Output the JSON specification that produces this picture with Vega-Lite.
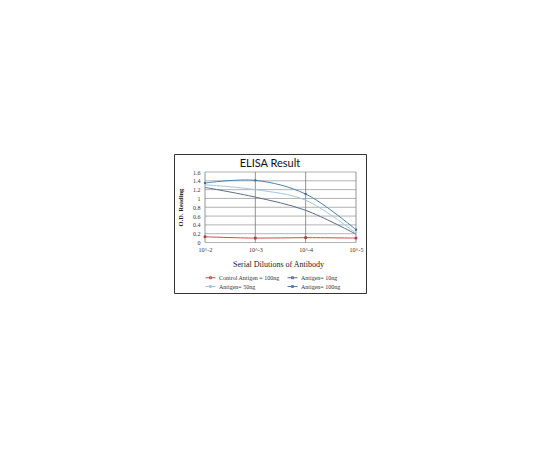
{
  "$schema": "https://vega.github.io/schema/vega-lite/v6.json",
  "autosize": {"type": "none"},
  "padding": {"left": 174, "top": 154, "right": 174, "bottom": 157},
  "width": 192,
  "height": 139,
  "background": "#ffffff",
  "title": {
    "text": "ELISA Result",
    "font": "Lato",
    "fontSize": 11,
    "fontWeight": "normal",
    "color": "#111111",
    "anchor": "middle",
    "baseline": "top",
    "offset": -15
  },
  "config": {
    "view": {"stroke": "#333333", "strokeWidth": 1}
  },
  "resolve": {"axis": {"x": "independent", "y": "independent"}},
  "datasets": {
    "hgrid": [
      {"od": 0}, {"od": 0.2}, {"od": 0.4}, {"od": 0.6}, {"od": 0.8},
      {"od": 1}, {"od": 1.2}, {"od": 1.4}, {"od": 1.6}
    ],
    "vgrid": [{"exp": 2}, {"exp": 3}, {"exp": 4}, {"exp": 5}],
    "elisa": [
      {"series": "Control Antigen = 100ng", "exp": 2, "od": 0.13},
      {"series": "Control Antigen = 100ng", "exp": 3, "od": 0.1},
      {"series": "Control Antigen = 100ng", "exp": 4, "od": 0.11},
      {"series": "Control Antigen = 100ng", "exp": 5, "od": 0.1},
      {"series": "Antigen= 10ng", "exp": 2, "od": 1.25},
      {"series": "Antigen= 10ng", "exp": 3, "od": 1.03},
      {"series": "Antigen= 10ng", "exp": 4, "od": 0.73},
      {"series": "Antigen= 10ng", "exp": 5, "od": 0.19},
      {"series": "Antigen= 50ng", "exp": 2, "od": 1.31},
      {"series": "Antigen= 50ng", "exp": 3, "od": 1.2},
      {"series": "Antigen= 50ng", "exp": 4, "od": 0.96},
      {"series": "Antigen= 50ng", "exp": 5, "od": 0.21},
      {"series": "Antigen= 100ng", "exp": 2, "od": 1.35},
      {"series": "Antigen= 100ng", "exp": 3, "od": 1.41},
      {"series": "Antigen= 100ng", "exp": 4, "od": 1.1},
      {"series": "Antigen= 100ng", "exp": 5, "od": 0.29}
    ]
  },
  "layer": [
    {
      "data": {"name": "hgrid"},
      "mark": {"type": "rule", "color": "#a0a0a0", "strokeWidth": 0.8},
      "encoding": {
        "y": {"field": "od", "type": "quantitative", "axis": null},
        "x": {"datum": 2, "type": "quantitative", "axis": null},
        "x2": {"datum": 5}
      }
    },
    {
      "data": {"name": "vgrid"},
      "mark": {"type": "rule", "color": "#7a7a7a", "strokeWidth": 0.8},
      "encoding": {
        "x": {"field": "exp", "type": "quantitative", "axis": null},
        "y": {"datum": 0, "type": "quantitative", "axis": null},
        "y2": {"datum": 1.6}
      }
    },
    {
      "data": {"name": "elisa"},
      "mark": {"type": "line", "interpolate": "catmull-rom", "strokeWidth": 1},
      "encoding": {
        "x": {
          "field": "exp",
          "type": "quantitative",
          "scale": {"domain": [1.384, 5.199], "nice": false, "zero": false},
          "axis": {
            "title": "Serial Dilutions  of Antibody",
            "titleFont": "Liberation Serif",
            "titleFontSize": 8,
            "titleFontWeight": "normal",
            "titleColor": "#222222",
            "titleX": 104,
            "titleY": 21.5,
            "titleAlign": "center",
            "titleBaseline": "middle",
            "values": [2, 3, 4, 5],
            "labelExpr": "'10^-' + datum.value",
            "labelFont": "Liberation Serif",
            "labelFontSize": 6,
            "labelColor": "#333333",
            "labelPadding": 4,
            "offset": -50.5,
            "domain": false,
            "ticks": false,
            "grid": false
          }
        },
        "y": {
          "field": "od",
          "type": "quantitative",
          "scale": {"domain": [-1.146, 2.0085], "nice": false, "zero": false},
          "axis": {
            "title": "O.D. Reading",
            "titleFont": "Liberation Serif",
            "titleFontSize": 6.5,
            "titleFontWeight": "bold",
            "titleColor": "#222222",
            "titleX": -25,
            "titleY": 53,
            "titleAlign": "center",
            "titleBaseline": "middle",
            "values": [0, 0.2, 0.4, 0.6, 0.8, 1, 1.2, 1.4, 1.6],
            "format": "~g",
            "labelFont": "Liberation Serif",
            "labelFontSize": 6,
            "labelColor": "#333333",
            "labelPadding": 5,
            "labelOverlap": false,
            "offset": -31,
            "domain": false,
            "ticks": false,
            "grid": false
          }
        },
        "color": {
          "field": "series",
          "type": "nominal",
          "scale": {
            "domain": ["Control Antigen = 100ng", "Antigen= 10ng", "Antigen= 50ng", "Antigen= 100ng"],
            "range": ["#c0504d", "#5a6d88", "#a3c6e0", "#4c82aa"]
          },
          "legend": {
            "title": null,
            "orient": "none",
            "legendX": 31,
            "legendY": 118,
            "direction": "horizontal",
            "columns": 2,
            "columnPadding": 5,
            "rowPadding": 0,
            "symbolType": "M-1,0H1M-0.2,-0.2H0.2V0.2H-0.2Z",
            "symbolSize": 100,
            "symbolStrokeWidth": 1,
            "labelFont": "Liberation Serif",
            "labelFontSize": 6,
            "labelColor": "#333333",
            "labelOffset": 3
          }
        }
      }
    },
    {
      "data": {"name": "elisa"},
      "transform": [{"filter": "datum.series === 'Control Antigen = 100ng'"}],
      "mark": {"type": "point", "shape": "square", "filled": true, "size": 7, "color": "#b03a48", "opacity": 1},
      "encoding": {
        "x": {"field": "exp", "type": "quantitative", "axis": null},
        "y": {"field": "od", "type": "quantitative", "axis": null}
      }
    },
    {
      "data": {"name": "elisa"},
      "transform": [{"filter": "datum.series === 'Antigen= 100ng'"}],
      "mark": {"type": "point", "shape": "circle", "filled": true, "size": 6, "color": "#3f6f96", "opacity": 1},
      "encoding": {
        "x": {"field": "exp", "type": "quantitative", "axis": null},
        "y": {"field": "od", "type": "quantitative", "axis": null}
      }
    }
  ]
}
